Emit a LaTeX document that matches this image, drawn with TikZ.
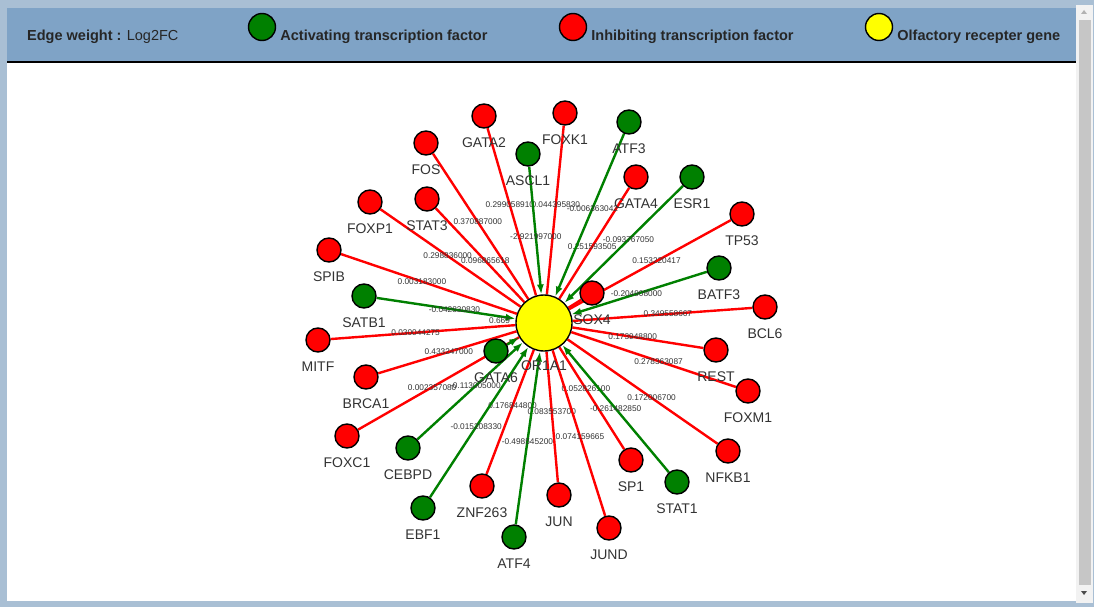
\documentclass[tikz,border=0pt]{standalone}
\usepackage{fontspec}
\setmainfont{Liberation Sans}
\usetikzlibrary{arrows.meta, positioning, backgrounds}
\definecolor{actgreen}{HTML}{008000}
\definecolor{inhred}{HTML}{FF0000}
\definecolor{olfyellow}{HTML}{FFFF00}
\definecolor{barblue}{HTML}{7FA3C6}
\definecolor{frameblue}{HTML}{A9BFD4}
\definecolor{txtgray}{HTML}{333333}

\begin{document}
\begin{tikzpicture}[x=1pt,y=-1pt]
\tikzstyle{every node}=[font=\fontsize{14}{15}\selectfont, text=txtgray]
\tikzstyle{every label}=[inner sep=1pt, yshift=-8pt]
\tikzstyle{gene}=[circle, draw, line width=1.4pt, minimum size=24pt, inner sep=0pt]
\tikzstyle{act}=[gene, fill=actgreen]
\tikzstyle{inh}=[gene, fill=inhred]
\tikzstyle{olf}=[gene, fill=olfyellow, minimum size=56pt]
\tikzstyle{every edge}=[draw, line width=2.4pt]
\tikzstyle{actedge}=[actgreen, <-, >={Latex[length=10pt,width=7pt]}]
\tikzstyle{inhedge}=[inhred]
\tikzstyle{wt}=[font=\fontsize{8.3}{9}\selectfont, inner sep=0pt]
\tikzstyle{legend}=[font=\fontsize{14.5}{16}\selectfont\bfseries, text=black!85, anchor=west, inner sep=0pt]

\useasboundingbox (0,0) rectangle (1094,607);

% frame, header and scroll bar
\begin{scope}[on background layer]
\fill[frameblue] (0,0) rectangle (1094,607);
\fill[barblue] (7,8) rectangle (1076,61);
\fill[white] (7,63) rectangle (1076,601);
\draw[line width=2pt] (7,62) -- (1076,62);
\fill[gray!10] (1076,5) rectangle (1093,603);
\fill[gray!45] (1079,20) rectangle (1091,585);
\fill[gray!60] (1081,14) -- (1087,14) -- (1084,10) -- cycle;
\fill[black!70] (1081,591) -- (1087,591) -- (1084,595) -- cycle;
\end{scope}

% legend
\node[legend] (ew) at (27,37) {Edge weight : \mdseries Log2FC};
\node[act, minimum size=27pt] (lgact) at (262,27) {};
\node[legend, right=4pt of lgact.east, yshift=-10pt] {Activating transcription factor};
\node[inh, minimum size=27pt] (lginh) at (573,27) {};
\node[legend, right=4pt of lginh.east, yshift=-10pt] {Inhibiting transcription factor};
\node[olf, minimum size=27pt] (lgolf) at (879,27) {};
\node[legend, right=4pt of lgolf.east, yshift=-10pt] {Olfactory recepter gene};

% genes
\node[olf, label=below:OR1A1] (OR1A1) at (544,323) {};

\node[inh, label=below:GATA2] (GATA2) at (484,116) {};
\node[inh, label=below:FOXK1] (FOXK1) at (565,113) {};
\node[act, label=below:ATF3] (ATF3) at (629,122) {};
\node[inh, label=below:FOS] (FOS) at (426,143) {};
\node[act, label=below:ASCL1] (ASCL1) at (528,154) {};
\node[inh, label=below:GATA4] (GATA4) at (636,177) {};
\node[act, label=below:ESR1] (ESR1) at (692,177) {};
\node[inh, label=below:TP53] (TP53) at (742,214) {};
\node[inh, label=below:FOXP1] (FOXP1) at (370,202) {};
\node[inh, label=below:STAT3] (STAT3) at (427,199) {};
\node[inh, label=below:SPIB] (SPIB) at (329,250) {};
\node[act, label=below:BATF3] (BATF3) at (719,268) {};
\node[act, label=below:SATB1] (SATB1) at (364,296) {};
\node[inh, label=below:SOX4] (SOX4) at (592,293) {};
\node[inh, label=below:BCL6] (BCL6) at (765,307) {};
\node[inh, label=below:MITF] (MITF) at (318,340) {};
\node[act, label=below:GATA6] (GATA6) at (496,351) {};
\node[inh, label=below:REST] (REST) at (716,350) {};
\node[inh, label=below:BRCA1] (BRCA1) at (366,377) {};
\node[inh, label=below:FOXM1] (FOXM1) at (748,391) {};
\node[inh, label=below:FOXC1] (FOXC1) at (347,436) {};
\node[act, label=below:CEBPD] (CEBPD) at (408,448) {};
\node[inh, label=below:NFKB1] (NFKB1) at (728,451) {};
\node[inh, label=below:SP1] (SP1) at (631,460) {};
\node[act, label=below:STAT1] (STAT1) at (677,482) {};
\node[inh, label=below:ZNF263] (ZNF263) at (482,486) {};
\node[inh, label=below:JUN] (JUN) at (559,495) {};
\node[act, label=below:EBF1] (EBF1) at (423,508) {};
\node[inh, label=below:JUND] (JUND) at (609,528) {};
\node[act, label=below:ATF4] (ATF4) at (514,537) {};

% edges, weighted by Log2FC
\begin{scope}[on background layer]
\draw (OR1A1) edge[inhedge] node[wt,pos=.54] {0.299058910} (GATA2)
              edge[inhedge] node[wt,pos=.53] {0.044395830} (FOXK1)
              edge[inhedge] node[wt,pos=.53] {0.370887000} (FOS)
              edge[inhedge] node[wt,pos=.47] {0.251593505} (GATA4)
              edge[inhedge] node[wt,pos=.54] {0.153220417} (TP53)
              edge[inhedge] node[wt,pos=.52] {0.298836000} (FOXP1)
              edge[inhedge] node[wt,pos=.44] {0.096865618} (STAT3)
              edge[inhedge] node[wt,pos=.54] {0.003183000} (SPIB)
              edge[inhedge] (SOX4)
              edge[inhedge] node[wt,pos=.53] {0.349558667} (BCL6)
              edge[inhedge] node[wt,pos=.54] {0.030044275} (MITF)
              edge[inhedge] node[wt,pos=.46] {0.173948800} (REST)
              edge[inhedge] node[wt,pos=.49] {0.433247000} (BRCA1)
              edge[inhedge] node[wt,pos=.53] {0.278363087} (FOXM1)
              edge[inhedge] node[wt,pos=.54] {0.002357080} (FOXC1)
              edge[inhedge] node[wt,pos=.56] {0.172006700} (NFKB1)
              edge[inhedge] node[wt,pos=.41] {0.052826100} (SP1)
              edge[inhedge] node[wt,pos=.45] {0.176844800} (ZNF263)
              edge[inhedge] node[wt,pos=.46] {0.083553700} (JUN)
              edge[inhedge] node[wt,pos=.52] {0.074159665} (JUND);
\draw (OR1A1) edge[actedge] node[wt,pos=.54] {-0.006363042} (ATF3)
              edge[actedge] node[wt,pos=.45] {-2.921997000} (ASCL1)
              edge[actedge] node[wt,pos=.54] {-0.093767050} (ESR1)
              edge[actedge] node[wt,pos=.48] {-0.204908000} (BATF3)
              edge[actedge] node[wt,pos=.44] {-0.042830830} (SATB1)
              edge[actedge] (GATA6)
              edge[actedge] node[wt,pos=.45] {-0.113005000} (CEBPD)
              edge[actedge] node[wt,pos=.50] {-0.261482850} (STAT1)
              edge[actedge] node[wt,pos=.53] {-0.015208330} (EBF1)
              edge[actedge] node[wt,pos=.52] {-0.498545200} (ATF4);
\node[wt, anchor=west] (wsox) at (489,321) {0.669};
\end{scope}
\end{tikzpicture}
\end{document}
